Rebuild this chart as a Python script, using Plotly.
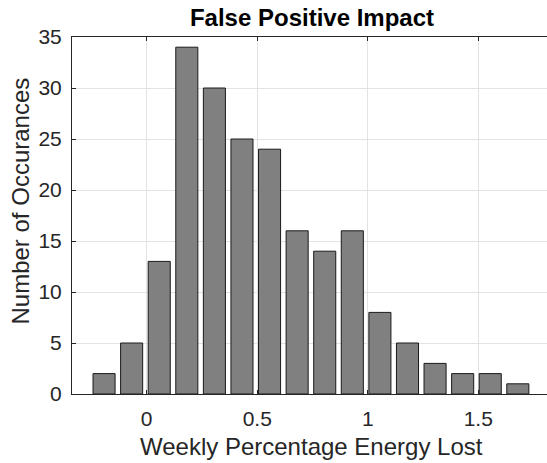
import plotly.graph_objects as go

# Histogram bin centres (weekly % energy lost) and counts
bin_start = -0.193
bin_step = 0.1248
counts = [2, 5, 13, 34, 30, 25, 24, 16, 14, 16, 8, 5, 3, 2, 2, 1]
bin_centers = [round(bin_start + i * bin_step, 4) for i in range(len(counts))]

x_ticks = [0, 0.5, 1, 1.5]
x_tick_text = ["0", "0.5", "1", "1.5"]
y_ticks = [0, 5, 10, 15, 20, 25, 30, 35]

W, H = 547, 463
L, R, T, B = 72, 0, 37, 69
PW, PH = W - L - R, H - T - B
FONT = "Liberation Sans, Arial, sans-serif"
TEXT = "#262626"


def px_x(px):
    return (px - L) / PW


def px_y(py):
    return (H - B - py) / PH


fig = go.Figure(
    go.Bar(
        x=bin_centers,
        y=counts,
        width=bin_step * 0.8,
        marker=dict(color="#808080", line=dict(color="#1a1a1a", width=1)),
    )
)

fig.update_layout(
    width=W,
    height=H,
    margin=dict(l=L, r=R, t=T, b=B),
    paper_bgcolor="white",
    plot_bgcolor="white",
    showlegend=False,
    font=dict(family=FONT, size=21, color=TEXT),
    title=dict(
        text="<b>False Positive Impact</b>",
        x=312 / W,
        xanchor="center",
        y=1 - 18 / H,
        yanchor="middle",
        font=dict(family=FONT, size=24, color="black"),
    ),
    annotations=[
        dict(
            text="Weekly Percentage Energy Lost",
            xref="paper", yref="paper",
            x=px_x(311.5), y=px_y(446.5),
            xanchor="center", yanchor="middle",
            showarrow=False,
            font=dict(family=FONT, size=24, color=TEXT),
        ),
        dict(
            text="Number of Occurances",
            xref="paper", yref="paper",
            x=px_x(20), y=px_y(201.5),
            xanchor="center", yanchor="middle",
            textangle=-90,
            showarrow=False,
            font=dict(family=FONT, size=24, color=TEXT),
        ),
    ],
)

fig.update_xaxes(
    range=[-0.338, 1.811],
    tickvals=x_ticks,
    ticktext=x_tick_text,
    showgrid=True,
    gridcolor="#e3e3e3",
    gridwidth=1,
    zeroline=False,
    showline=True,
    linecolor=TEXT,
    linewidth=1,
    mirror="ticks",
    ticks="inside",
    ticklen=4,
    tickcolor=TEXT,
    ticklabelstandoff=6,
)

fig.update_yaxes(
    range=[0, 35],
    tickvals=y_ticks,
    showgrid=True,
    gridcolor="#e3e3e3",
    gridwidth=1,
    zeroline=False,
    showline=True,
    linecolor=TEXT,
    linewidth=1,
    ticks="inside",
    ticklen=4,
    tickcolor=TEXT,
    ticklabelstandoff=5,
)

fig.write_html("out.html")
